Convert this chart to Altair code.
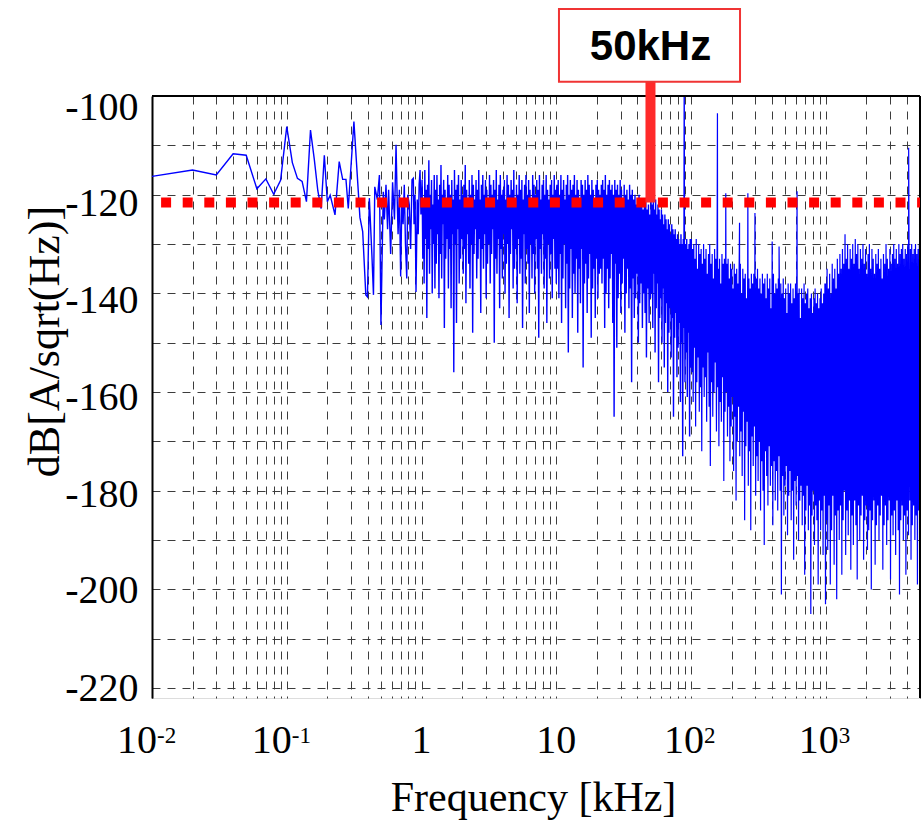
import numpy as np
import pandas as pd
import altair as alt

SERIF = "Liberation Serif"
SANS = "Liberation Sans"

# ---------------- data ----------------
# low-frequency part (individually visible points), kHz / dB
LOW_FREQ = [0.01, 0.02, 0.03, 0.04, 0.05, 0.06, 0.07, 0.08, 0.09, 0.10,
            0.11, 0.12, 0.13, 0.14, 0.15, 0.16, 0.17, 0.18, 0.19, 0.20,
            0.21, 0.228, 0.245, 0.26, 0.275, 0.286, 0.315, 0.349, 0.366, 0.386,
            0.397, 0.41, 0.428, 0.44, 0.45, 0.47, 0.487, 0.50, 0.52, 0.53,
            0.545, 0.56, 0.57, 0.59, 0.61, 0.63, 0.647, 0.66, 0.67, 0.685,
            0.70, 0.715, 0.73, 0.745, 0.76, 0.777, 0.79, 0.811, 0.83, 0.85,
            0.869, 0.88, 0.895, 0.91, 0.93, 0.945, 0.96, 0.975, 0.99]
LOW_DB = [-116.3, -115.0, -116.0, -111.7, -112.0, -118.8, -116.8, -119.9, -117.1, -106.2,
          -113.5, -116.7, -117.3, -121.4, -106.9, -112.8, -119.2, -122.8, -112.0, -121.4,
          -120.1, -124.1, -113.3, -116.9, -116.9, -122.8, -105.2, -124.6, -127.5, -140.3,
          -140.7, -120.7, -132.0, -140.3, -118.4, -121.0, -116.0, -146.4, -119.4, -125.0,
          -118.0, -127.0, -119.0, -132.0, -117.5, -125.0, -109.9, -121.0, -128.0, -119.0,
          -136.6, -121.0, -126.0, -118.0, -130.0, -137.0, -120.0, -122.0, -131.0, -117.0,
          -116.7, -126.0, -120.0, -139.7, -121.0, -128.0, -118.0, -115.0, -124.0]

# dense parts: (first bin kHz, last bin kHz) and the values read across each band
SEG_A_RANGE = [1.01, 10.0]
SEG_A_DB = [
    -117, -133, -121, -138, -115, -129, -119, -145, -118, -131, -113, -136, -120, -127, -117, -140, -122, -130, -116, -139,
    -119, -134, -116, -128, -121, -141, -118, -132, -114, -137, -120, -126, -117, -147, -119, -133, -122, -129, -116, -139,
    -118, -131, -120, -143, -117, -128, -121, -156, -115, -130, -119, -146, -118, -127, -116, -138, -121, -133, -117, -129,
    -120, -136, -118, -131, -114, -142, -119, -128, -122, -134, -117, -139, -120, -130, -116, -148, -118, -132, -121, -127,
    -117, -137, -119, -133, -115, -129, -121, -144, -118, -131, -116, -135, -120, -128, -117, -141, -119, -134, -122, -130,
    -116, -138, -118, -132, -120, -127, -117, -150, -119, -133, -115, -136, -121, -129, -118, -143, -116, -131, -120, -137,
    -119, -128, -117, -140, -121, -134, -116, -130, -118, -145, -120, -132, -117, -127, -119, -139, -115, -135, -121, -131,
    -118, -142, -120, -129, -116, -136, -119, -133, -117, -147, -121, -128, -118, -138, -116, -131, -120, -134, -117, -144,
    -119, -130, -121, -137, -116, -132, -118, -140, -120, -129, -117, -135, -119, -149, -116, -131, -121, -136, -118, -128,
    -117, -139, -120, -133, -116, -146, -119, -130, -121, -137, -118, -132, -117, -141, -120, -129, -116, -135, -119, -138,
]
SEG_B_RANGE = [10.1, 50.0]
SEG_B_DB = [
    -118, -135, -117, -141, -120, -132, -116, -146, -119, -137, -117, -130, -121, -143, -118, -134, -116, -152, -120, -139,
    -117, -131, -119, -145, -118, -136, -116, -140, -120, -133, -117, -148, -119, -135, -121, -142, -117, -131, -118, -155,
    -120, -138, -117, -134, -119, -144, -116, -137, -118, -132, -120, -149, -117, -139, -119, -135, -121, -145, -118, -133,
    -117, -141, -119, -136, -120, -135, -118, -138, -117, -133, -119, -147, -116, -140, -120, -135, -118, -143, -117, -137,
    -119, -132, -118, -146, -120, -165, -117, -134, -119, -151, -118, -141, -120, -136, -117, -144, -119, -138, -121, -133,
    -118, -148, -120, -140, -119, -135, -121, -143, -118, -139, -120, -158, -119, -137, -121, -145, -120, -141, -122, -136,
    -121, -150, -120, -142, -122, -138, -121, -147, -123, -140, -122, -144, -121, -153, -123, -139, -122, -146, -124, -141,
]
SEG_C_RANGE = [50.5, 99.5]
SEG_C_DB = [
    -121, -140, -122, -147, -120, -136, -123, -152, -121, -143, -124, -138, -122, -158, -123, -145, -125, -141, -123, -150,
    -124, -139, -126, -155, -124, -146, -125, -142, -127, -160, -125, -148, -126, -143, -128, -153, -126, -145, -127, -165,
    -128, -149, -127, -144, -129, -157, -128, -151, -129, -146, -130, -162, -128, -150, -130, -173, -129, -147, -131, -158,
    -130, -152, -129, -161, -131, -148, -130, -169, -129, -155,
]
SEG_D_RANGE = [100.5, 995.0]
SEG_D_DB = [
    -129, -156, -131, -162, -130, -151, -133, -167, -129, -158, -135, -153, -130, -164, -132, -159, -131, -172, -134, -155,
    -130, -161, -133, -157, -131, -166, -136, -152, -132, -163, -130, -175, -134, -158, -132, -165, -137, -160, -131, -154,
    -133, -168, -132, -159, -135, -171, -133, -162, -138, -166, -132, -157, -134, -178, -133, -164, -136, -160, -134, -169,
    -133, -163, -137, -174, -134, -167, -135, -161, -139, -176, -134, -165, -136, -182, -135, -170, -138, -163, -135, -173,
    -134, -168, -140, -177, -135, -164, -137, -186, -136, -171, -141, -166, -135, -179, -137, -172, -139, -188, -136, -169,
    -138, -175, -136, -167, -142, -181, -137, -173, -135, -178, -139, -170, -137, -184, -140, -174, -136, -180, -138, -191,
    -137, -172, -141, -177, -136, -183, -139, -171, -137, -179, -143, -175, -138, -187, -136, -174, -140, -182, -138, -176,
    -139, -184, -137, -173, -142, -180, -138, -201, -140, -177, -137, -185, -141, -179, -139, -175, -144, -189, -138, -181,
    -140, -176, -138, -186, -142, -180, -139, -194, -141, -178, -138, -183, -143, -177, -140, -190, -139, -182, -145, -179,
    -139, -187, -141, -181, -138, -197, -142, -184, -140, -179, -139, -188, -143, -183, -141, -205, -140, -185, -144, -180,
    -141, -191, -139, -183, -142, -186, -140, -199, -143, -182, -141, -188, -139, -184, -142, -193, -140, -181, -138, -203,
]
SEG_E_RANGE = [1000.0, 5000.0]
SEG_E_DB = [
    -138, -186, -135, -192, -139, -183, -136, -199, -140, -188, -134, -181, -137, -195, -135, -185, -139, -202, -133, -184,
    -136, -190, -132, -183, -135, -197, -131, -186, -134, -180, -128, -193, -133, -184, -130, -189, -135, -182, -131, -196,
    -133, -185, -130, -191, -134, -182, -129, -187, -132, -198, -130, -183, -135, -190, -131, -185, -133, -181, -130, -194,
    -134, -186, -131, -183, -136, -192, -132, -188, -130, -184, -135, -200, -131, -186, -133, -182, -136, -195, -132, -187,
    -134, -183, -131, -190, -135, -185, -133, -181, -137, -196, -132, -187, -134, -183, -130, -191, -133, -186, -135, -182,
    -131, -198, -134, -185, -132, -189, -130, -184, -133, -193, -131, -182, -134, -188, -130, -201, -132, -186, -131, -183,
    -130, -190, -133, -185, -131, -197, -132, -184, -130, -189, -134, -182, -131, -194, -130, -187, -132, -183, -131, -190,
    -130, -185, -132, -199, -131, -184, -130, -188,
]
# narrow tones standing above the noise
SPIKE_FREQ = [89.0, 157.0, 181.0, 229.0, 264.0, 298.0, 400.0, 450.0, 612.0, 4120.0]
SPIKE_DB = [-100.0, -103.5, -119.7, -125.7, -119.7, -123.7, -129.5, -130.5, -119.3, -110.5]

# axes / annotation values
Y_TICKS = [-220, -210, -200, -190, -180, -170, -160, -150, -140, -130, -120, -110, -100]
X_GRID = [m * 10.0 ** e for e in range(-2, 4) for m in range(1, 10) if m * 10.0 ** e <= 5000]
LIMIT_DB = -121.6
MARK_FREQ = 50.0
X_DOMAIN = [0.01, 5000]
Y_DOMAIN = [-222, -100]
SPLIT_KHZ = 100.0   # above this the trace is drawn a little thinner (denser bins)

# ---------------- assemble ----------------
def band(rng, vals):
    return pd.DataFrame({"f": np.geomspace(rng[0], rng[1], len(vals)), "db": vals})

spec = pd.concat([
    pd.DataFrame({"f": LOW_FREQ, "db": LOW_DB}),
    band(SEG_A_RANGE, SEG_A_DB), band(SEG_B_RANGE, SEG_B_DB), band(SEG_C_RANGE, SEG_C_DB),
    band(SEG_D_RANGE, SEG_D_DB), band(SEG_E_RANGE, SEG_E_DB),
    pd.DataFrame({"f": SPIKE_FREQ, "db": SPIKE_DB}),
]).sort_values("f").reset_index(drop=True)
spec["i"] = np.arange(len(spec))
cut = int((spec["f"] < SPLIT_KHZ).sum())
spec_lo = spec.iloc[:cut + 1]
spec_hi = spec.iloc[cut - 1:]

XS = alt.Scale(type="log", domain=X_DOMAIN, nice=False)
YS = alt.Scale(domain=Y_DOMAIN, nice=False, zero=False)

x_axis = alt.Axis(values=X_GRID, labels=False, ticks=False, domain=False,
                  grid=True, gridDash=[8, 7], gridColor="#3c3c3c", gridWidth=1,
                  title="Frequency [kHz]", titleFont=SERIF, titleFontSize=42,
                  titleFontWeight="normal", titleColor="black",
                  titleX=381, titleY=112, titleAlign="center", titleBaseline="alphabetic")
y_axis = alt.Axis(values=Y_TICKS,
                  labelExpr="datum.value % 20 == 0 ? '' + datum.value : ''",
                  labelFont=SERIF, labelFontSize=40, labelColor="black", labelPadding=14,
                  labelOffset={"condition": [
                      {"test": "datum.value == -100", "value": 11},
                      {"test": "datum.value == -120", "value": 9},
                      {"test": "datum.value == -140", "value": 7.5},
                      {"test": "datum.value == -160", "value": 5.5},
                      {"test": "datum.value == -180", "value": 3.5},
                      {"test": "datum.value == -200", "value": 1.5}], "value": 0},
                  ticks=False, domain=True, domainColor="black", domainWidth=2,
                  grid=True, gridDash=[8, 7], gridColor="#3c3c3c", gridWidth=1,
                  title="dB[A/sqrt(Hz)]", titleFont=SERIF, titleFontSize=44,
                  titleFontWeight="normal", titleColor="black", titleAngle=270,
                  titleX=-107, titleY=245, titleAlign="center", titleBaseline="middle")

line_lo = alt.Chart(spec_lo).mark_line(color="#0000FF", strokeWidth=1.4, clip=True).encode(
    x=alt.X("f:Q", scale=XS, axis=x_axis),
    y=alt.Y("db:Q", scale=YS, axis=y_axis),
    order="i:Q",
)
line_hi = alt.Chart(spec_hi).mark_line(color="#0000FF", strokeWidth=1.2, clip=True).encode(
    x=alt.X("f:Q", scale=XS),
    y=alt.Y("db:Q", scale=YS),
    order="i:Q",
)

frame_df = pd.DataFrame({"f": [X_DOMAIN[0], X_DOMAIN[1]], "f2": [X_DOMAIN[1], X_DOMAIN[1]],
                         "db": [Y_DOMAIN[1], Y_DOMAIN[0]], "db2": [Y_DOMAIN[1], Y_DOMAIN[1]]})
frame = alt.Chart(frame_df).mark_rule(color="black", strokeWidth=2).encode(
    x=alt.X("f:Q", scale=XS), x2="f2", y=alt.Y("db:Q", scale=YS), y2="db2")

limit_df = pd.DataFrame({"f": [X_DOMAIN[0]], "f2": [X_DOMAIN[1]], "db": [LIMIT_DB]})
limit = alt.Chart(limit_df).mark_rule(color="#FF0000", strokeWidth=10, strokeDash=[10, 11.6],
                                      strokeDashOffset=12.5, strokeCap="butt").encode(
    x=alt.X("f:Q", scale=XS), x2="f2", y=alt.Y("db:Q", scale=YS))

bar_df = pd.DataFrame({"f": [MARK_FREQ], "db": [LIMIT_DB], "db2": [-97.1]})
bar = alt.Chart(bar_df).mark_rule(color="#FF2A2A", strokeWidth=10, strokeCap="butt").encode(
    x=alt.X("f:Q", scale=XS), y=alt.Y("db:Q", scale=YS), y2="db2")

box_df = pd.DataFrame({"f": [10.47], "f2": [230.9], "db": [-97.1], "db2": [-82.37]})
box = alt.Chart(box_df).mark_rect(fill="white", stroke="#F03434", strokeWidth=2).encode(
    x=alt.X("f:Q", scale=XS), x2="f2", y=alt.Y("db:Q", scale=YS), y2="db2")

label_df = pd.DataFrame({"f": [MARK_FREQ], "db": [-90.07], "t": ["50kHz"]})
label = alt.Chart(label_df).mark_text(font=SANS, fontWeight="bold", fontSize=42, color="black",
                                      align="center", baseline="middle").encode(
    x=alt.X("f:Q", scale=XS), y=alt.Y("db:Q", scale=YS), text="t:N")

# x tick labels (with superscript exponents)
TICK_BASE_DB = -233.2
TICK_SUP_DB = -231.1
plain_df = pd.DataFrame({"f": [1.0, 10.0], "db": [TICK_BASE_DB] * 2, "t": ["1", "10"]})
neg_df = pd.DataFrame({"f": [0.01, 0.1], "db": [TICK_BASE_DB] * 2, "t": ["10", "10"]})
neg_sup_df = pd.DataFrame({"f": [0.01, 0.1], "db": [TICK_SUP_DB] * 2, "t": ["-2", "-1"]})
pos_df = pd.DataFrame({"f": [100.0, 1000.0], "db": [TICK_BASE_DB] * 2, "t": ["10", "10"]})
pos_sup_df = pd.DataFrame({"f": [100.0, 1000.0], "db": [TICK_SUP_DB] * 2, "t": ["2", "3"]})

def tick_text(df, align, dx, size):
    return alt.Chart(df).mark_text(font=SERIF, fontSize=size, color="black", align=align,
                                   baseline="alphabetic", dx=dx).encode(
        x=alt.X("f:Q", scale=XS), y=alt.Y("db:Q", scale=YS), text="t:N")

ticks = [
    tick_text(plain_df, "center", 0, 40),
    tick_text(neg_df, "right", 5, 40),
    tick_text(neg_sup_df, "left", 5, 23),
    tick_text(pos_df, "right", 13, 40),
    tick_text(pos_sup_df, "left", 13, 23),
]

chart = alt.layer(line_lo, line_hi, frame, limit, bar, box, label, *ticks).properties(
    width=768, height=602,
    autosize=alt.AutoSizeParams(type="none"),
    padding={"left": 152, "top": 96, "right": 2, "bottom": 123},
).configure_view(stroke=None).configure(background="white")

chart.save("out.html", embed_options={"renderer": "svg", "actions": False})
